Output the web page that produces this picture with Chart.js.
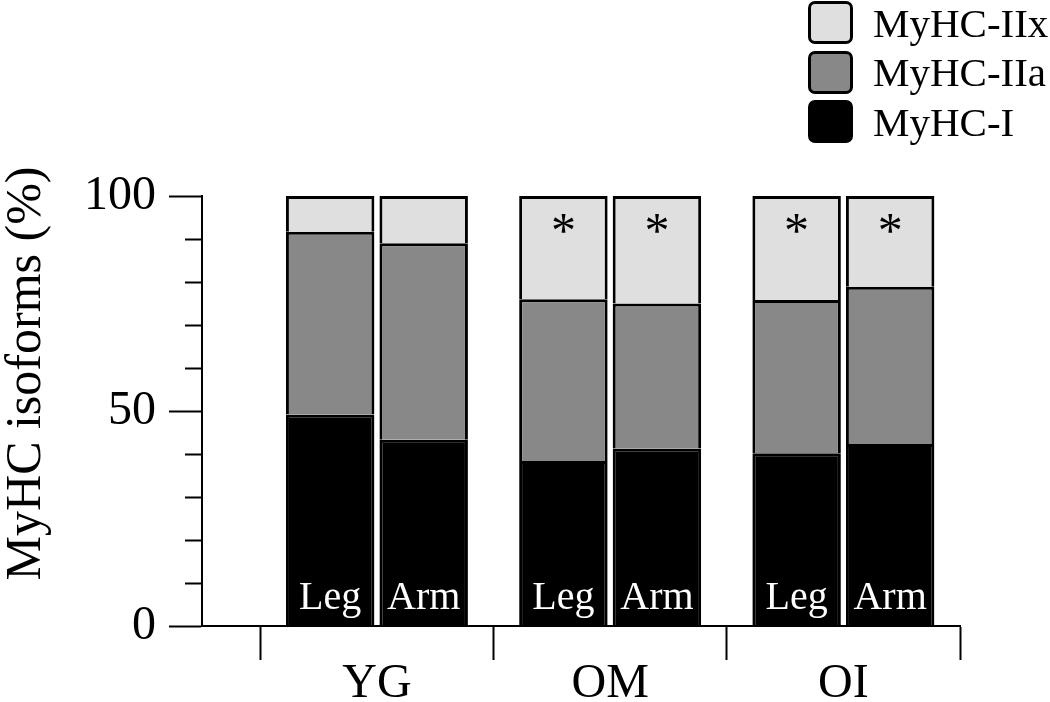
<!DOCTYPE html>
<html>
<head>
<meta charset="utf-8">
<script src="https://cdn.jsdelivr.net/npm/chart.js@4.4.1/dist/chart.umd.min.js"></script>
<style>
  html, body { margin: 0; background: #fff; }
  #wrap { position: relative; width: 1050px; height: 702px; }
  #legend { position: absolute; left: 808px; top: 1px; font: 41px "Liberation Serif", serif; color: #000; }
  .item { display: flex; align-items: center; height: 43px; margin-bottom: 6.5px; }
  .box { width: 45px; height: 43px; box-sizing: border-box; border: 3px solid #000; border-radius: 7px; margin-right: 20px; }
</style>
</head>
<body>
<div id="wrap"><canvas id="chart"></canvas><div id="legend"></div></div>
<script>
// MyHC isoform composition per group, leg vs arm (stacked to 100%).
const categories = ["YG", "OM", "OI"];
const limbs = ["Leg", "Arm"];
const isoforms = ["MyHC-I", "MyHC-IIa", "MyHC-IIx"];
const isoformColors = ["#000000", "#888888", "#dfdfdf"];

const legI = [49.2, 38.4, 40.2];
const legIIa = [42.5, 37.6, 35.6];
const legIIx = [8.3, 24.0, 24.2];
const armI = [43.3, 41.3, 42.3];
const armIIa = [45.7, 33.7, 36.6];
const armIIx = [11.0, 25.0, 21.1];

// significance marks on the IIx segment
const legStars = [false, true, true];
const armStars = [false, true, true];

const series = { Leg: [legI, legIIa, legIIx], Arm: [armI, armIIa, armIIx] };
const stars = { Leg: legStars, Arm: armStars };

const groupEdges = categories.map((c, i) => i + 0.5).concat([categories.length + 0.5]);

const datasets = [];
isoforms.forEach((iso, k) => {
  limbs.forEach((limb) => {
    datasets.push({
      label: iso,
      stack: limb,
      data: series[limb][k].map((v, i) => ({ x: i + 1, y: v })),
      backgroundColor: isoformColors[k],
      borderColor: "#000",
      borderWidth: 3,
      stars: k === 2 ? stars[limb] : null,
    });
  });
});

const barText = {
  id: "barText",
  afterDatasetsDraw(chart) {
    const ctx = chart.ctx;
    ctx.save();
    ctx.textAlign = "center";
    chart.data.datasets.forEach((ds, i) => {
      const meta = chart.getDatasetMeta(i);
      meta.data.forEach((bar, j) => {
        if (ds.label === isoforms[0]) {
          ctx.font = '40px "Liberation Serif"';
          ctx.fillStyle = "#fff";
          ctx.textBaseline = "alphabetic";
          ctx.fillText(ds.stack, bar.x, bar.base - 17);
        }
        if (ds.stars && ds.stars[j]) {
          ctx.font = '50px "Liberation Serif"';
          ctx.fillStyle = "#000";
          ctx.textBaseline = "middle";
          ctx.fillText("*", bar.x, bar.y + 38);
        }
      });
    });
    ctx.restore();
  },
};

Chart.defaults.font.family = '"Liberation Serif", serif';
Chart.defaults.color = "#000";

const chart = new Chart(document.getElementById("chart"), {
  type: "bar",
  data: { datasets },
  plugins: [barText],
  options: {
    responsive: true,
    maintainAspectRatio: false,
    animation: false,
    layout: { padding: { left: 0, top: 196, right: 90, bottom: -6 } },
    datasets: { bar: { categoryPercentage: 0.802, barPercentage: 0.946 } },
    plugins: { legend: { display: false }, tooltip: { enabled: false } },
    scales: {
      x: {
        type: "linear",
        min: 0.25,
        max: 3.5,
        offset: false,
        afterBuildTicks: (axis) => { axis.ticks = groupEdges.map((v) => ({ value: v })); },
        ticks: { display: false },
        grid: { offset: false, drawOnChartArea: false, tickLength: 34, tickWidth: 2, tickColor: "#000" },
        border: { color: "#000", width: 2 },
      },
      x2: {
        type: "linear",
        position: "bottom",
        weight: 1,
        min: 0.25,
        max: 3.5,
        offset: false,
        afterBuildTicks: (axis) => { axis.ticks = categories.map((c, i) => ({ value: i + 1 })); },
        ticks: {
          callback: (v) => categories[v - 1],
          padding: 0,
          maxRotation: 0,
          autoSkip: false,
          font: { size: 48, lineHeight: 1 },
        },
        grid: { display: false, drawTicks: false },
        border: { display: false },
      },
      y: {
        stacked: true,
        min: 0,
        max: 100,
        afterFit: (axis) => { axis.width = 202; },
        ticks: {
          stepSize: 10,
          padding: 13,
          autoSkip: false,
          font: { size: 48 },
          callback: (v) => (v % 50 === 0 ? v : ""),
        },
        grid: {
          drawOnChartArea: false,
          tickLength: 33,
          tickWidth: 2,
          tickColor: "#000",
          tickBorderDash: (c) => (c.tick && c.tick.value % 50 !== 0 ? [0, 16, 20] : []),
        },
        border: { color: "#000", width: 2 },
        title: {
          display: true,
          text: "\u2002\u2002\u2002MyHC isoforms (%)",
          font: { size: 50, lineHeight: 1 },
          padding: { top: 2, bottom: 0 },
        },
      },
    },
  },
});

// legend: one entry per isoform, top isoform first
const items = Chart.defaults.plugins.legend.labels.generateLabels(chart)
  .filter((it) => chart.data.datasets[it.datasetIndex].stack === limbs[0])
  .reverse();
const legendEl = document.getElementById("legend");
items.forEach((it) => {
  const row = document.createElement("div");
  row.className = "item";
  const box = document.createElement("span");
  box.className = "box";
  box.style.background = it.fillStyle;
  const txt = document.createElement("span");
  txt.textContent = it.text;
  row.appendChild(box);
  row.appendChild(txt);
  legendEl.appendChild(row);
});
</script>
</body>
</html>
